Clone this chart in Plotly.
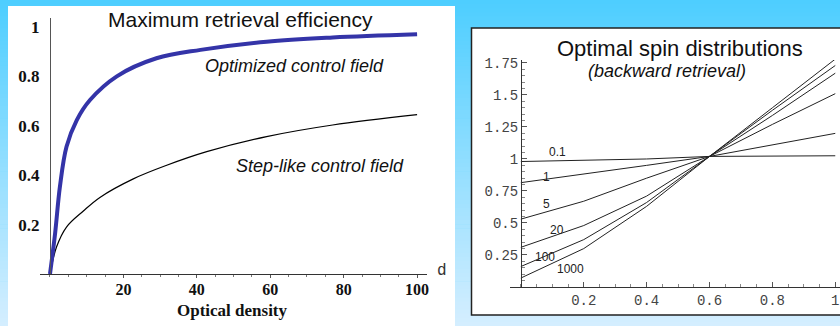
import plotly.graph_objects as go

W, H = 840, 326

# ---------------- data: left panel ----------------
d_opt = [0, 1.4, 2.7, 4.5, 7.3, 10.9, 18.2, 29, 41, 59, 77, 100]
eff_opt = [0, 0.165, 0.353, 0.515, 0.623, 0.704, 0.80, 0.873, 0.907, 0.94, 0.957, 0.970]
d_step = [0, 1.8, 4.5, 9.1, 13.6, 22.7, 31.8, 42.7, 59, 77, 100]
eff_step = [0, 0.11, 0.19, 0.255, 0.31, 0.385, 0.44, 0.495, 0.556, 0.603, 0.645]
left_xticks = [20, 40, 60, 80, 100]
left_xticktext = ["20", "40", "60", "80", "100"]
left_yticks = [0.2, 0.4, 0.6, 0.8, 1.0]
left_yticktext = ["0.2", "0.4", "0.6", "0.8", "1"]

# ---------------- data: right panel ----------------
z = [0, 0.2, 0.4, 0.6, 0.8, 1.0]
spin_labels = ["0.1", "1", "5", "20", "100", "1000"]
spin = {
    "0.1": [0.98, 0.99, 1.00, 1.02, 1.022, 1.025],
    "1": [0.815, 0.88, 0.95, 1.02, 1.11, 1.20],
    "5": [0.53, 0.67, 0.85, 1.02, 1.27, 1.51],
    "20": [0.31, 0.48, 0.71, 1.02, 1.34, 1.67],
    "100": [0.16, 0.37, 0.66, 1.02, 1.38, 1.73],
    "1000": [0.07, 0.30, 0.63, 1.02, 1.40, 1.78],
}
right_xticks = [0.2, 0.4, 0.6, 0.8, 1.0]
right_xticktext = ["0.2", "0.4", "0.6", "0.8", "1"]
right_yticks = [0.25, 0.5, 0.75, 1.0, 1.25, 1.5, 1.75]
right_yticktext = ["0.25", "0.5", "0.75", "1", "1.25", "1.5", "1.75"]


def px(x):
    return x / W


def py(y):
    return 1 - y / H


fig = go.Figure()

fig.add_trace(go.Scatter(x=d_step, y=eff_step, mode="lines", line=dict(color="black", width=1.2, shape="spline"),
                         xaxis="x", yaxis="y", showlegend=False, hoverinfo="skip"))
fig.add_trace(go.Scatter(x=d_opt, y=eff_opt, mode="lines", line=dict(color="#3434a8", width=4, shape="spline"),
                         xaxis="x", yaxis="y", showlegend=False, hoverinfo="skip"))

for lab in spin_labels:
    fig.add_trace(go.Scatter(x=z, y=spin[lab], mode="lines", line=dict(color="#222", width=1),
                             xaxis="x2", yaxis="y2", showlegend=False, hoverinfo="skip"))

# background gradient
shapes = []
N = 80
top = (78, 206, 255)
bot = (212, 238, 255)
for i in range(N):
    t = i / (N - 1)
    c = tuple(int(round(top[k] + (bot[k] - top[k]) * t)) for k in range(3))
    shapes.append(dict(type="rect", xref="paper", yref="paper", x0=0, x1=1,
                       y0=1 - (i + 1) / N - 0.002, y1=1 - i / N,
                       fillcolor="rgb(%d,%d,%d)" % c, line=dict(width=0), layer="below"))
# left white panel
shapes.append(dict(type="rect", xref="paper", yref="paper", x0=px(8), x1=px(455), y0=-0.02, y1=py(6),
                   fillcolor="white", line=dict(width=0), layer="below"))
# right framed panel
shapes.append(dict(type="rect", xref="paper", yref="paper", x0=px(471.5), x1=1.02, y0=py(315), y1=py(28),
                   fillcolor="white", line=dict(color="#222", width=1.5), layer="below"))

serif_b = dict(family="Liberation Serif", size=17, color="#111", weight="bold")
serif_bx = dict(family="Liberation Serif", size=16, color="#111", weight="bold")
mono = dict(family="Liberation Mono", size=14, color="#444")
sans = "Liberation Sans"


def ann(text, x, y, font):
    return dict(text=text, x=px(x), y=py(y), xref="paper", yref="paper", showarrow=False,
                xanchor="center", yanchor="middle", font=font)


annotations = [
    ann("Maximum retrieval efficiency", 240, 19, dict(family=sans, size=21, color="#111")),
    ann("Optimized control field", 294, 66, dict(family=sans, size=18, color="#111", style="italic")),
    ann("Step-like control field", 320, 166, dict(family=sans, size=18, color="#111", style="italic")),
    ann("Optical density", 232, 310, serif_b),
    ann("d", 442, 271, dict(family="Liberation Mono", size=16, color="#333")),
    ann("Optimal spin distributions", 680, 48, dict(family=sans, size=22, color="#111")),
    ann("(backward retrieval)", 667, 71, dict(family=sans, size=18, color="#111", style="italic")),
]
label_pos = {"0.1": (557, 152), "1": (546, 177), "5": (546, 204), "20": (557, 230),
             "100": (545, 257), "1000": (570, 269)}
for lab in spin_labels:
    lx, ly = label_pos[lab]
    annotations.append(ann(lab, lx, ly, dict(family=sans, size=12, color="#222")))

fig.update_layout(
    width=W, height=H,
    margin=dict(l=0, r=0, t=0, b=0, autoexpand=False),
    paper_bgcolor="rgb(78,206,255)",
    plot_bgcolor="rgba(0,0,0,0)",
    shapes=shapes,
    annotations=annotations,
    xaxis=dict(domain=[px(40), px(427)], anchor="y", range=[-2.72, 102.7], automargin=False,
               ticklabelstandoff=-2,
               showline=True, linecolor="#333", linewidth=1.3, showgrid=False, zeroline=False,
               tickmode="array", tickvals=left_xticks, ticktext=left_xticktext,
               ticks="outside", ticklen=3, tickcolor="#555", tickfont=serif_bx,
               minor=dict(tickmode="linear", tick0=0, dtick=5, ticks="outside", ticklen=2, tickcolor="#777")),
    yaxis=dict(domain=[1 - 274 / H, 1 - 18 / H], anchor="free", position=px(50), range=[0, 1.036],
               automargin=False, ticklabelstandoff=7,
               showline=True, linecolor="#555", linewidth=1, showgrid=False, zeroline=False,
               tickmode="array", tickvals=left_yticks, ticktext=left_yticktext,
               ticks="", tickfont=serif_b),
    xaxis2=dict(domain=[px(510), 1.0], anchor="y2", range=[-0.0345, 1.015], automargin=False,
                ticklabeloverflow="allow",
                showline=True, linecolor="#333", linewidth=1, showgrid=False, zeroline=False,
                tickmode="array", tickvals=right_xticks, ticktext=right_xticktext,
                ticks="inside", ticklen=5, tickcolor="#555", tickfont=mono,
                minor=dict(tickmode="linear", tick0=0, dtick=0.05, ticks="inside", ticklen=3, tickcolor="#888")),
    yaxis2=dict(domain=[1 - 287 / H, 1 - 60 / H], anchor="free", position=px(521), range=[0, 1.773],
                automargin=False,
                showline=True, linecolor="#333", linewidth=1, showgrid=False, zeroline=False,
                tickmode="array", tickvals=right_yticks, ticktext=right_yticktext,
                ticks="inside", ticklen=5, tickcolor="#555", tickfont=mono,
                minor=dict(tickmode="linear", tick0=0, dtick=0.05, ticks="inside", ticklen=3, tickcolor="#888")),
)

fig.write_html("out.html")
